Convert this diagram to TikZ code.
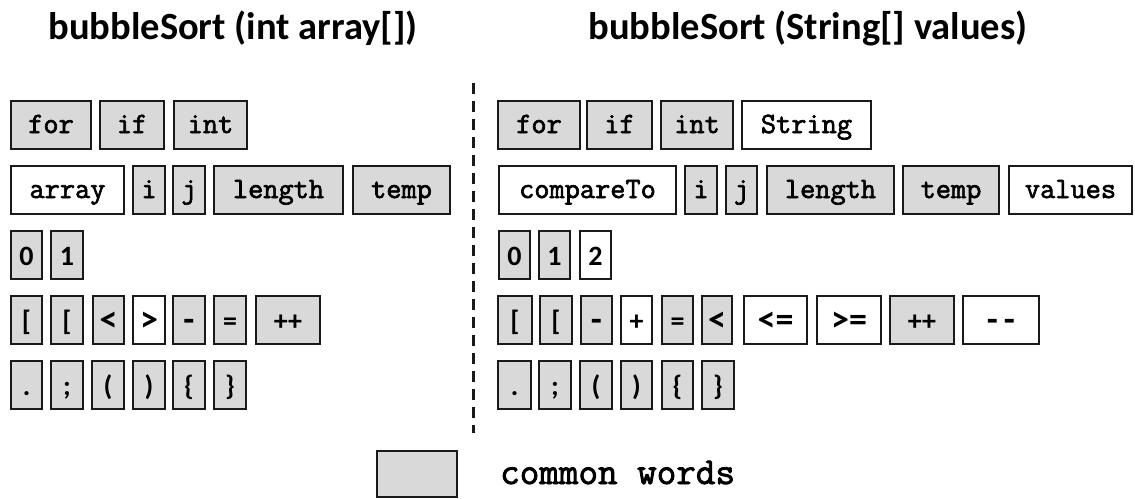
\documentclass[tikz,border=0pt]{standalone}
\usepackage{fontspec}
\newfontfamily\opf{Carlito}
\newfontfamily\codef{Latin Modern Mono}[FakeBold=2.2]
\definecolor{graybox}{HTML}{D9D9D9}
\definecolor{linec}{HTML}{1A1A1A}
\newcommand\bx[6]{\node[tok,#5,minimum width={#3-#2-2}] (#1) at ({(#2+#3)/2},#4) {#6};}
\begin{document}
\begin{tikzpicture}[x=1pt,y=-1pt,
  tok/.style={draw=linec, line width=1.8pt, minimum height=48pt, inner sep=0pt, fill=graybox},
  wt/.style={fill=white},
  code/.style={font=\codef\fontsize{29.5}{31}\selectfont, text height=16pt, text depth=0pt},
  op/.style={font=\opf\bfseries\fontsize{28}{30}\selectfont, text height=21pt, text depth=0pt},
  opl/.style={font=\opf\bfseries\fontsize{36}{38}\selectfont, text height=23pt, text depth=0pt},
  title/.style={font=\opf\bfseries\fontsize{38.5}{42}\selectfont, inner sep=0pt},
  divider/.style={draw=linec, line width=3pt, dash pattern=on 11pt off 7pt}]
\useasboundingbox (0,0) rectangle (1135,498);
% titles
\node[title] (tl) at (233,28) {bubbleSort (int array[])};
\node[title] (tr) at (808,28) {bubbleSort (String[] values)};
% divider
\coordinate (dtop) at (473,83);
\coordinate (dbot) at (473,433);
\draw[divider] (dtop) -- (dbot);
% left row 1
\bx{Lfor}{10}{92}{125}{code}{for}
\bx{Lif}{99}{165}{125}{code}{if}
\bx{Lint}{173}{248}{125}{code}{int}
% left row 2
\bx{Larray}{10}{125}{190}{code,wt}{array}
\bx{Li}{132}{166}{190}{code}{i}
\bx{Lj}{172}{206}{190}{code}{j}
\bx{Llength}{213}{344}{190}{code}{length}
\bx{Ltemp}{352}{451}{190}{code}{temp}
% left row 3
\bx{Lzero}{10}{43}{255}{op}{0}
\bx{Lone}{50}{84}{255}{op}{1}
% left row 4
\bx{Lbra}{10}{43}{320}{op}{[}
\bx{Lbrb}{50}{84}{320}{op}{[}
\bx{Llt}{92}{125}{320}{opl}{<}
\bx{Lgt}{132}{166}{320}{opl,wt}{>}
\bx{Lminus}{172}{206}{320}{opl}{-}
\bx{Leq}{213}{247}{320}{op}{=}
\bx{Linc}{255}{321}{320}{op}{++}
% left row 5
\bx{Ldot}{10}{43}{385}{op}{.}
\bx{Lsemi}{50}{84}{385}{op}{;}
\bx{Lpo}{91}{125}{385}{op}{(}
\bx{Lpc}{132}{166}{385}{op}{)}
\bx{Lbo}{172}{206}{385}{op}{\{}
\bx{Lbc}{213}{247}{385}{op}{\}}
% right row 1
\bx{Rfor}{497}{581}{125}{code}{for}
\bx{Rif}{586}{653}{125}{code}{if}
\bx{Rint}{660}{734}{125}{code}{int}
\bx{Rstring}{741}{872}{125}{code,wt}{String}
% right row 2
\bx{Rcmp}{498}{677}{190}{code,wt}{compareTo}
\bx{Ri}{684}{718}{190}{code}{i}
\bx{Rj}{725}{758}{190}{code}{j}
\bx{Rlength}{766}{895}{190}{code}{length}
\bx{Rtemp}{902}{1000}{190}{code}{temp}
\bx{Rvalues}{1008}{1133}{190}{code,wt}{values}
% right row 3
\bx{Rzero}{498}{531}{255}{op}{0}
\bx{Rone}{538}{571}{255}{op}{1}
\bx{Rtwo}{579}{612}{255}{op,wt}{2}
% right row 4
\bx{Rbra}{497}{533}{320}{op}{[}
\bx{Rbrb}{539}{573}{320}{op}{[}
\bx{Rminus}{580}{613}{320}{opl}{-}
\bx{Rplus}{620}{653}{320}{op,wt}{+}
\bx{Req}{661}{694}{320}{op}{=}
\bx{Rlt}{701}{733}{320}{opl}{<}
\bx{Rle}{743}{808}{320}{opl,wt}{<=}
\bx{Rge}{816}{882}{320}{opl,wt}{>=}
\bx{Rinc}{889}{955}{320}{op}{++}
\bx{Rdec}{962}{1040}{320}{opl,wt}{-\,-}
% right row 5
\bx{Rdot}{497}{532}{385}{op}{.}
\bx{Rsemi}{538}{572}{385}{op}{;}
\bx{Rpo}{579}{613}{385}{op}{(}
\bx{Rpc}{620}{653}{385}{op}{)}
\bx{Rbo}{661}{694}{385}{op}{\{}
\bx{Rbc}{701}{735}{385}{op}{\}}
% legend
\node[tok, minimum width=80pt, minimum height=46pt] (legbox) at (417,474) {};
\node[anchor=base west, inner sep=0pt, font=\codef\fontsize{38}{40}\selectfont] (legtext) at (500,484) {common words};
\end{tikzpicture}
\end{document}
